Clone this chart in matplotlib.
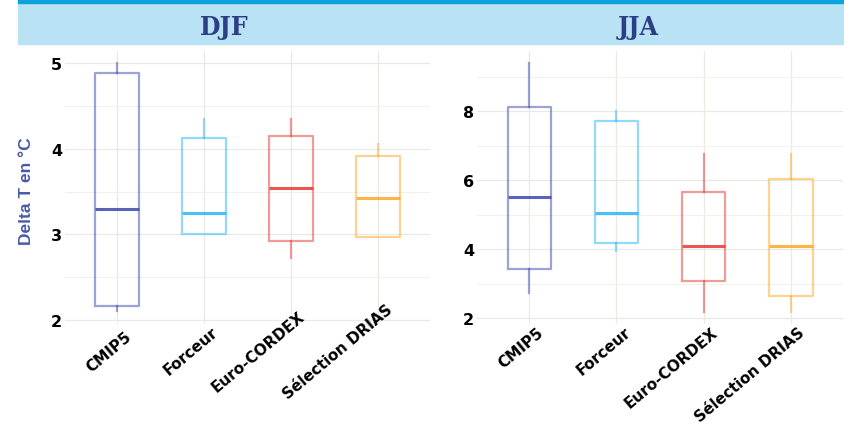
import matplotlib
matplotlib.use("Agg")
import matplotlib.pyplot as plt
import matplotlib.transforms as mtransforms
from matplotlib.patches import Rectangle
from matplotlib.ticker import MultipleLocator

# box statistics per season, read in the order: whisker low, q1, median, q3, whisker high
models = ["CMIP5", "Forceur", "Euro-CORDEX", "Sélection DRIAS"]
colors = ["#3949ab", "#29b6f6", "#e53935", "#ffa726"]

djf_low = [2.11, 3.00, 2.73, 2.97]
djf_q1 = [2.17, 3.01, 2.92, 2.97]
djf_med = [3.30, 3.25, 3.54, 3.42]
djf_q3 = [4.88, 4.12, 4.15, 3.92]
djf_high = [5.00, 4.35, 4.35, 4.06]

jja_low = [2.73, 3.94, 2.19, 2.19]
jja_q1 = [3.42, 4.18, 3.09, 2.65]
jja_med = [5.50, 5.06, 4.08, 4.08]
jja_q3 = [8.13, 7.70, 5.66, 6.03]
jja_high = [9.38, 8.01, 6.75, 6.75]

TITLE_COL = "#2b3f86"
LABEL_COL = "#4a5aa8"

fig = plt.figure(figsize=(8.44, 4.31), dpi=100)
W, H = 844, 431


def fx(px):
    return px / W


def fy(py):
    return 1 - py / H


# header strip: dark rule on top of a light blue band
fig.patches.append(Rectangle((fx(18), fy(45)), fx(826), 40 / H,
                             transform=fig.transFigure, color="#b9e2f5", zorder=0))
fig.patches.append(Rectangle((fx(18), fy(4)), fx(826), 4 / H,
                             transform=fig.transFigure, color="#0aa3dc", zorder=1))

title_font = dict(family="DejaVu Serif", fontstretch="condensed", fontweight="bold",
                  fontsize=19, color=TITLE_COL, ha="center", va="center")
fig.text(fx(224), fy(27), "DJF", **title_font)
fig.text(fx(638), fy(27), "JJA", **title_font)


def draw_panel(ax, low, q1, med, q3, high, major, minor, ylim, lab_va, lab_dy):
    for i in range(len(models)):
        s = dict(whislo=low[i], q1=q1[i], med=med[i], q3=q3[i],
                 whishi=high[i], fliers=[], label=models[i])
        c = colors[i]
        ax.bxp([s], positions=[i + 1], widths=0.5, showcaps=False,
               showfliers=False, patch_artist=False,
               boxprops=dict(color=c, linewidth=1.6, alpha=0.5),
               whiskerprops=dict(color=c, linewidth=1.6, alpha=0.5),
               medianprops=dict(color=c, linewidth=2.2, alpha=0.85))
    ax.set_xlim(0.4, 4.6)
    ax.set_ylim(*ylim)
    ax.set_xticks(range(1, len(models) + 1))
    ax.set_xticklabels([])
    # category labels: rotated, right edge just past the tick
    off = mtransforms.ScaledTranslation(17 / 100, -lab_dy / 100, fig.dpi_scale_trans)
    trans = ax.get_xaxis_transform() + off
    for i, name in enumerate(models):
        ax.text(i + 1, 0, name, transform=trans, rotation=40,
                rotation_mode="default", ha="right", va=lab_va,
                fontsize=11, fontweight="bold", family="DejaVu Sans",
                clip_on=False)
    ax.yaxis.set_major_locator(MultipleLocator(major))
    ax.yaxis.set_minor_locator(MultipleLocator(minor))
    for lab in ax.get_yticklabels():
        lab.set_fontweight("bold")
        lab.set_fontsize(11.5)
        lab.set_family("DejaVu Sans")
    ax.tick_params(axis="y", which="both", length=0, pad=2)
    ax.tick_params(axis="x", which="both", length=0)
    ax.grid(True, which="major", color="#ebe9e4", linewidth=0.9)
    ax.grid(True, which="minor", axis="y", color="#f3f1ec", linewidth=0.8)
    ax.set_axisbelow(True)
    for sp in ax.spines.values():
        sp.set_visible(False)


ax1 = fig.add_axes([fx(65), fy(325), fx(365), 273 / H])
draw_panel(ax1, djf_low, djf_q1, djf_med, djf_q3, djf_high, 1, 0.5, (1.955, 5.14),
           "center", 27)
ax1.set_ylabel("Delta T en °C", color=LABEL_COL, fontweight="bold", fontsize=12.5,
               family="Liberation Sans")
ax1.yaxis.set_label_coords(-0.085, 0.49)

ax2 = fig.add_axes([fx(477), fy(325), fx(366), 273 / H])
draw_panel(ax2, jja_low, jja_q1, jja_med, jja_q3, jja_high, 2, 1, (1.83, 9.74),
           "top", 0)

fig.savefig("out.png", dpi=100)
